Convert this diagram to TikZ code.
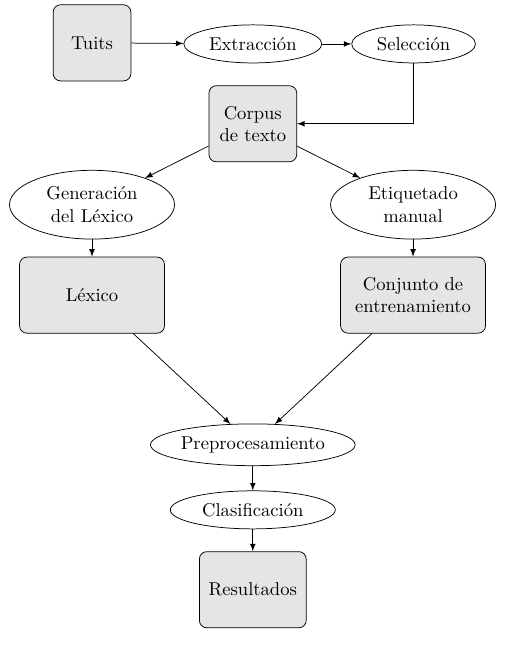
\documentclass[tikz,border=0pt]{standalone}
\usepackage{tikz}
\usetikzlibrary{shapes}
\tikzset{>=latex}
\tikzset{caja/.style={draw, rounded corners=4pt, fill=gray!20, align=center, minimum height=1.44cm, inner sep=2pt},
  proceso/.style={draw, ellipse, align=center, inner sep=0pt, minimum height=0.72cm}}

\begin{document}
\begin{tikzpicture}

\useasboundingbox (0,0) rectangle (9.64,-12.29);

\node[caja, minimum width=1.47cm] (tuits) at (1.74,-0.81) {Tuits};
\node[proceso, minimum width=2.61cm] (extr) at (4.78,-0.83) {Extracción};
\node[proceso, minimum width=2.34cm] (sel) at (7.82,-0.83) {Selección};
\node[caja, minimum width=1.66cm] (corpus) at (4.78,-2.34) {Corpus\\de texto};

\node[proceso, minimum width=3.12cm, minimum height=1.3cm] (gen) at (1.74,-3.87) {Generación\\del Léxico};
\node[proceso, minimum width=3.12cm, minimum height=1.3cm] (etiq) at (7.81,-3.87) {Etiquetado\\manual};
\node[caja, minimum width=2.74cm] (lex) at (1.74,-5.58) {Léxico};
\node[caja, minimum width=2.74cm] (conj) at (7.81,-5.58) {Conjunto de\\entrenamiento};

\node[proceso, minimum width=3.87cm, minimum height=0.79cm] (prep) at (4.78,-8.41) {Preprocesamiento};
\node[proceso, minimum width=3.12cm] (clas) at (4.78,-9.64) {Clasificación};
\node[caja, minimum width=2.02cm] (res) at (4.78,-11.15) {Resultados};

\draw[->] (tuits) -- (extr);
\draw[->] (extr) -- (sel);
\draw[->] (sel.south) |- (corpus.east);
\draw[->] (corpus) -- (gen);
\draw[->] (corpus) -- (etiq);
\draw[->] (gen) -- (lex);
\draw[->] (etiq) -- (conj);
\draw[->] (lex) -- (prep);
\draw[->] (conj) -- (prep);
\draw[->] (prep) -- (clas);
\draw[->] (clas) -- (res);

\end{tikzpicture}
\end{document}
